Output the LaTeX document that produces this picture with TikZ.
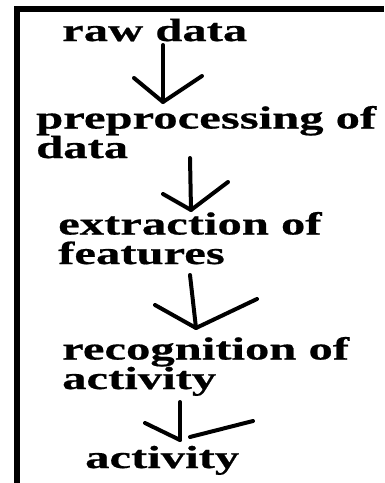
\documentclass[tikz,border=0pt]{standalone}
\usepackage{fontspec}
\setmainfont{Liberation Serif}
\newfontfamily\stretchserif[FakeStretch=1.52, FakeBold=0.6]{Liberation Serif}
\usetikzlibrary{positioning}

\tikzset{
  steptext/.style={anchor=base west, inner sep=0pt, align=left,
    font=\stretchserif\bfseries\fontsize{32}{29.5}\selectfont},
  pen/.style={line width=4pt, line cap=round, line join=round},
}

\begin{document}
\begin{tikzpicture}[x=1pt, y=-1pt]
\useasboundingbox (0,0) rectangle (384,483);

% Frame (left and top only)
\draw[line width=6pt, line join=miter] (16.5,483) -- (16.5,8.5) -- (384,8.5);

% Steps (base = baseline of the last line)
\node[steptext] (raw) at (62,41) {raw data};
\node[steptext] (prep) at (36,158) {preprocessing of\\data};
\node[steptext] (extr) at (58,264) {extraction of\\features};
\node[steptext] (recog) at (62,389) {recognition of\\activity};
\node[steptext] (act) at (85,468) {activity};

% Hand drawn arrows: shaft top / tip / left arm / right arm
\foreach \i/\top/\tip/\lft/\rgt in {1/{163,45}/{163,102}/{134,78}/{202,76},
                                     2/{190,158}/{191,210}/{163,194}/{228,182},
                                     3/{190,275}/{196,328}/{155,305}/{257,299}}{
  \coordinate (top\i) at (\top);
  \coordinate (tip\i) at (\tip);
  \coordinate (lft\i) at (\lft);
  \coordinate (rgt\i) at (\rgt);
  \draw[pen] (top\i) -- (tip\i);
  \draw[pen] (lft\i) -- (tip\i) -- (rgt\i);
}

% last arrow, right arm does not meet the tip
\coordinate (top4) at (180,402);
\coordinate (tip4) at (180,440);
\coordinate (lft4) at (145,423);
\coordinate (gap4) at (190,437);
\coordinate (rgt4) at (253,421);
\draw[pen] (top4) -- (tip4);
\draw[pen] (lft4) -- (tip4);
\draw[pen] (gap4) -- (rgt4);

\end{tikzpicture}
\end{document}
